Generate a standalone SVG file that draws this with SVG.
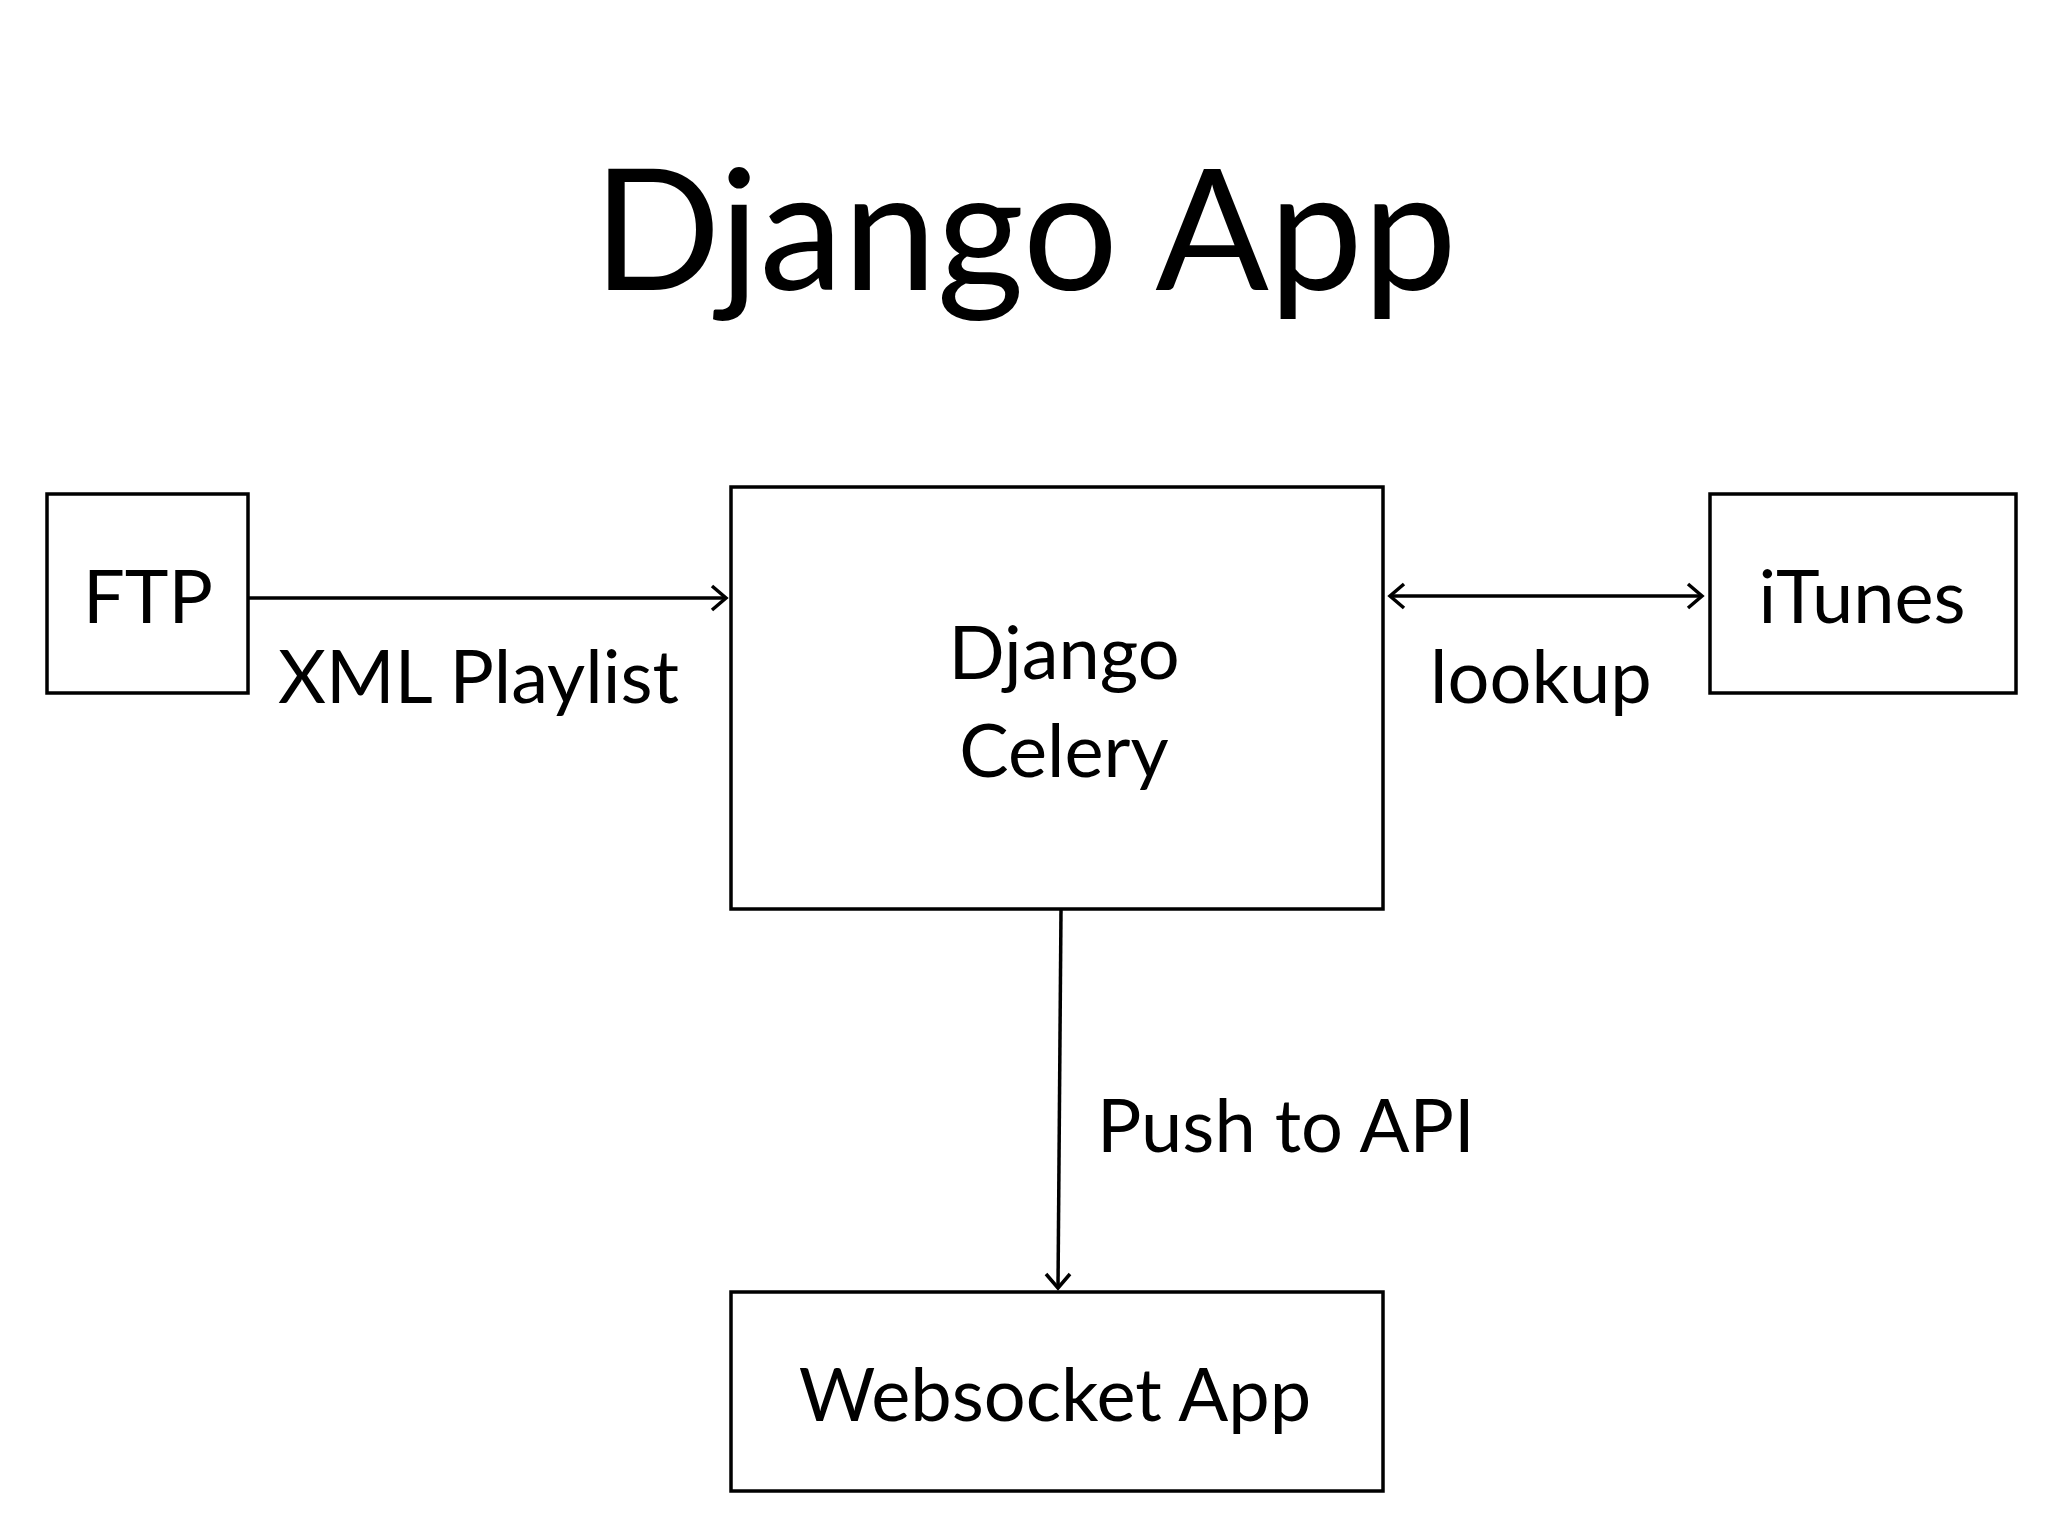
<svg xmlns="http://www.w3.org/2000/svg" width="2048" height="1536" viewBox="0 0 2048 1536">
<style>
text{font-family:Lato,"Liberation Sans",sans-serif;fill:#000}
.box{fill:#fff;stroke:#000;stroke-width:3.5}
.lbl{font-size:74px}
.ln{stroke:#000;stroke-width:3.5;fill:none}
</style>
<defs>
<marker id="a" viewBox="0 0 10 10" refX="9" refY="5" markerWidth="7" markerHeight="7" orient="auto-start-reverse" markerUnits="userSpaceOnUse" style="overflow:visible">
<path d="M0,0 L10,5 L0,10" fill="none" stroke="#000" stroke-width="2.5" transform="scale(2.2) translate(-5.5,-2.7)"/>
</marker>
</defs>
<rect width="2048" height="1536" fill="#fff"/>
<text x="1025" y="290" font-size="168" text-anchor="middle">Django App</text>
<g id="ftp"><rect class="box" x="47" y="494" width="201" height="199"/><text class="lbl" x="148" y="623" text-anchor="middle">FTP</text></g>
<g id="celery"><rect class="box" x="731" y="487" width="652" height="422"/><text class="lbl" x="1064" y="679" text-anchor="middle">Django</text><text class="lbl" x="1064" y="777" text-anchor="middle">Celery</text></g>
<g id="itunes"><rect class="box" x="1710" y="494" width="306" height="199"/><text class="lbl" x="1862" y="623" text-anchor="middle">iTunes</text></g>
<g id="websocket"><rect class="box" x="731" y="1292" width="652" height="199"/><text class="lbl" x="1055" y="1421" text-anchor="middle">Websocket App</text></g>
<g id="connectors">
<path class="ln" d="M248,598 H724"/>
<path class="ln" d="M712,586 L726,598 L712,610"/>
<path class="ln" d="M1390,596 H1702"/>
<path class="ln" d="M1404,584 L1390,596 L1404,608"/>
<path class="ln" d="M1688,584 L1702,596 L1688,608"/>
<path class="ln" d="M1061,910 L1058,1288"/>
<path class="ln" d="M1046,1274 L1058,1288 L1070,1274"/>
<text class="lbl" x="278" y="703">XML Playlist</text>
<text class="lbl" x="1430" y="703">lookup</text>
<text class="lbl" x="1097" y="1152">Push to API</text>
</g>
</svg>
